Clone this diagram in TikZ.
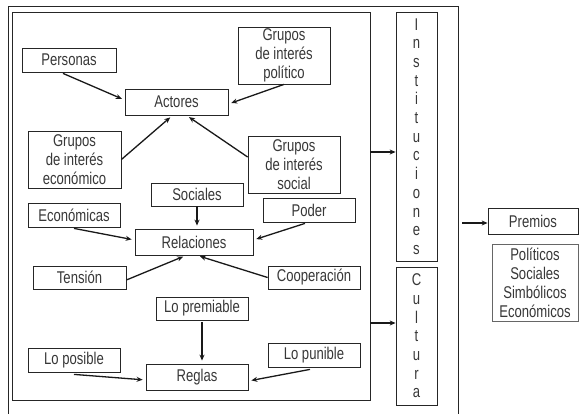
\documentclass[tikz,border=0pt]{standalone}
\usepackage{fontspec}
\setmainfont{Liberation Sans}[FakeStretch=0.77]
\usetikzlibrary{arrows.meta}
\begin{document}
\begin{tikzpicture}[x=1pt,y=-1pt,
  every node/.style={font=\fontsize{17}{19}\selectfont, text=black!78},
  caja/.style={draw=black!85, line width=0.8pt, inner sep=0pt, align=center},
  flecha/.style={line width=1.3pt, draw=black!90, -{Stealth[length=6pt,width=5pt]}, shorten >=3pt},
  gruesa/.style={line width=2pt, draw=black!90, -{Stealth[length=6pt,width=5pt]}},
  letras/.style={caja, font=\fontsize{17}{18.7}\selectfont}]
\useasboundingbox (0,0) rectangle (579,414);
\fill[white] (0,0) rectangle (579,414);

% outer frame (open at the bottom)
\draw[line width=0.8pt, black!85] (8,414) -- (8,6) -- (458,6) -- (458,414);

% inner frame
\node[caja, minimum width=358, minimum height=388] (marco) at (191,206) {};

% Actores
\node[caja, minimum width=94, minimum height=24] (personas) at (69,60) {Personas};
\node[caja, minimum width=103, minimum height=26] (actores) at (176.5,102) {Actores};
\node[caja, minimum width=92, minimum height=57] (politico) at (284,55.5) {Grupos\\de interés\\político};
\node[caja, minimum width=93, minimum height=57] (economico) at (74.5,159.5) {Grupos\\de interés\\económico};
\node[caja, minimum width=92, minimum height=57] (social) at (294,164.5) {Grupos\\de interés\\social};

% Relaciones
\node[caja, minimum width=92, minimum height=23] (sociales) at (197,194.5) {Sociales};
\node[caja, minimum width=92, minimum height=24] (economicas) at (74,215) {Económicas};
\node[caja, minimum width=92, minimum height=24] (poder) at (309,210) {Poder};
\node[caja, minimum width=118, minimum height=26] (relaciones) at (194,242) {Relaciones};
\node[caja, minimum width=93, minimum height=23] (tension) at (79.5,277.5) {Tensión};
\node[caja, minimum width=92, minimum height=23] (cooperacion) at (314,277.5) {Cooperación};

% Reglas
\node[caja, minimum width=92, minimum height=23] (premiable) at (202,308.5) {Lo premiable};
\node[caja, minimum width=92, minimum height=24] (posible) at (74,360) {Lo posible};
\node[caja, minimum width=92, minimum height=24] (punible) at (314,355) {Lo punible};
\node[caja, minimum width=102, minimum height=26] (reglas) at (197,377) {Reglas};

% vertical boxes
\node[letras, minimum width=41, minimum height=249] (inst) at (416.5,136.5)
  {I\\n\\s\\t\\i\\t\\u\\c\\i\\o\\n\\e\\s};
\node[letras, minimum width=41, minimum height=138] (cultura) at (416.5,336)
  {C\\u\\l\\t\\u\\r\\a};

% Premios
\node[caja, minimum width=90, minimum height=26] (premios) at (533,221) {Premios};
\node[caja, draw=black!60, minimum width=86, minimum height=77] (tipos) at (535,282.5)
  {Políticos\\Sociales\\Simbólicos\\Económicos};
\coordinate (salida) at (462,223);

% connectors
\draw[flecha] ([xshift=-6pt,yshift=-1pt]personas.south) -- ([yshift=2pt]actores.west);
\draw[flecha] (politico.south) -- ([yshift=-2pt]actores.east);
\draw[flecha] (economico.east) -- ([xshift=-4pt]actores.south);
\draw[flecha] ([yshift=7.5pt]social.west) -- ([xshift=10pt]actores.south);

\draw[flecha] (sociales.south) -- (sociales.south |- relaciones.north);
\draw[flecha] ([yshift=-1pt]economicas.south) -- ([yshift=2pt]relaciones.west);
\draw[flecha] ([xshift=-4pt,yshift=-1pt]poder.south) -- ([yshift=2pt]relaciones.east);
\draw[flecha] ([yshift=-2.5pt]tension.east) -- ([xshift=-8pt]relaciones.south);
\draw[flecha] (cooperacion.west) -- ([xshift=3pt]relaciones.south);

\draw[flecha] ([yshift=-2pt]premiable.south) -- (premiable.south |- reglas.north);
\draw[flecha] ([yshift=-2pt]posible.south) -- ([yshift=-3pt]reglas.west);
\draw[flecha] ([xshift=-4pt,yshift=-2pt]punible.south) -- ([yshift=-4pt]reglas.east);

\draw[gruesa] (marco.east |- 0,152) -- (inst.west |- 0,152);
\draw[gruesa] (marco.east |- 0,323) -- (cultura.west |- 0,323);
\draw[gruesa] (salida) -- (premios.west |- salida);
\end{tikzpicture}
\end{document}
